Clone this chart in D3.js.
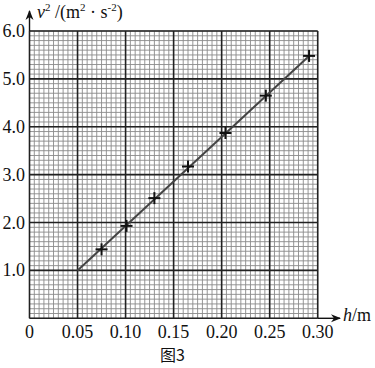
<!DOCTYPE html>
<html><head><meta charset="utf-8">
<script src="https://cdn.jsdelivr.net/npm/d3@7"></script>
<style>html,body{margin:0;padding:0;background:#fff;}svg{display:block;}</style>
</head><body>
<svg id="c" width="375" height="368"></svg>
<script>
const hValues = [0.075, 0.101, 0.130, 0.165, 0.204, 0.246, 0.291];
const v2Values = [1.44, 1.93, 2.51, 3.17, 3.87, 4.65, 5.48];
const fitH = [0.05, 0.291];
const fitV2 = [1.0, 5.48];
const xTicks = [0, 0.05, 0.10, 0.15, 0.20, 0.25, 0.30];
const xTickLabels = ["0", "0.05", "0.10", "0.15", "0.20", "0.25", "0.30"];
const yTicks = [1, 2, 3, 4, 5, 6];
const yTickLabels = ["1.0", "2.0", "3.0", "4.0", "5.0", "6.0"];

const svg = d3.select("#c");
const x = d3.scaleLinear().domain([0, 0.30]).range([29.5, 317.7]);
const y = d3.scaleLinear().domain([0, 6]).range([318.3, 31]);
const serif = "'Liberation Serif','Times New Roman',serif";

// minor grid
const minorX = d3.range(0, 61).map(i => i * 0.005);
const minorY = d3.range(0, 61).map(i => i * 0.1);
const g = svg.append("g");
g.selectAll(".mx").data(minorX).enter().append("line")
  .attr("x1", d => x(d)).attr("x2", d => x(d)).attr("y1", y(0)).attr("y2", y(6))
  .attr("stroke", "#8a8a8a").attr("stroke-width", 0.9);
g.selectAll(".my").data(minorY).enter().append("line")
  .attr("y1", d => y(d)).attr("y2", d => y(d)).attr("x1", x(0)).attr("x2", x(0.30))
  .attr("stroke", "#8a8a8a").attr("stroke-width", 0.9);
// major grid
g.selectAll(".Mx").data(xTicks).enter().append("line")
  .attr("x1", d => x(d)).attr("x2", d => x(d)).attr("y1", y(0)).attr("y2", y(6))
  .attr("stroke", "#222").attr("stroke-width", 1.6);
g.selectAll(".My").data([0].concat(yTicks)).enter().append("line")
  .attr("y1", d => y(d)).attr("y2", d => y(d)).attr("x1", x(0)).attr("x2", x(0.30))
  .attr("stroke", "#222").attr("stroke-width", 1.6);

// axes arrows
svg.append("defs").append("marker").attr("id", "arr")
  .attr("viewBox", "0 0 10 10").attr("refX", 9).attr("refY", 5)
  .attr("markerWidth", 10).attr("markerHeight", 10).attr("markerUnits", "userSpaceOnUse")
  .attr("orient", "auto")
  .append("path").attr("d", "M0,1 L10,5 L0,9 L3,5 Z").attr("fill", "#111");
svg.append("line").attr("x1", x(0)).attr("x2", x(0)).attr("y1", y(6)).attr("y2", 11)
  .attr("stroke", "#111").attr("stroke-width", 1.4).attr("marker-end", "url(#arr)");
svg.append("line").attr("x1", x(0.30)).attr("x2", 340).attr("y1", y(0)).attr("y2", y(0))
  .attr("stroke", "#111").attr("stroke-width", 1.4).attr("marker-end", "url(#arr)");

// fit line
svg.append("line")
  .attr("x1", x(fitH[0])).attr("y1", y(fitV2[0]))
  .attr("x2", x(fitH[1])).attr("y2", y(fitV2[1]))
  .attr("stroke", "#444").attr("stroke-width", 2);

// markers
const s = 6;
const pts = svg.selectAll(".pt").data(hValues.map((h, i) => [h, v2Values[i]])).enter().append("g");
pts.append("line").attr("x1", d => x(d[0]) - s).attr("x2", d => x(d[0]) + s)
  .attr("y1", d => y(d[1])).attr("y2", d => y(d[1])).attr("stroke", "#111").attr("stroke-width", 2);
pts.append("line").attr("x1", d => x(d[0])).attr("x2", d => x(d[0]))
  .attr("y1", d => y(d[1]) - s).attr("y2", d => y(d[1]) + s).attr("stroke", "#111").attr("stroke-width", 2);

// tick labels
svg.selectAll(".xl").data(xTicks).enter().append("text")
  .attr("x", d => x(d)).attr("y", 338).attr("text-anchor", "middle")
  .attr("font-family", serif).attr("font-size", 18).attr("fill", "#111")
  .text((d, i) => xTickLabels[i]);
svg.selectAll(".yl").data(yTicks).enter().append("text")
  .attr("x", 25).attr("y", d => y(d) + 6).attr("text-anchor", "end")
  .attr("font-family", serif).attr("font-size", 18).attr("fill", "#111")
  .text((d, i) => yTickLabels[i]);

// axis titles
const yt = svg.append("text").attr("x", 37).attr("y", 18)
  .attr("font-family", serif).attr("font-size", 18).attr("fill", "#111");
yt.append("tspan").attr("font-style", "italic").text("v");
yt.append("tspan").attr("font-size", 11).attr("dy", -7).text("2");
yt.append("tspan").attr("dy", 7).text(" /(m");
yt.append("tspan").attr("font-size", 11).attr("dy", -7).text("2");
yt.append("tspan").attr("dy", 7).text(" · s");
yt.append("tspan").attr("font-size", 11).attr("dy", -7).text("-2");
yt.append("tspan").attr("dy", 7).text(")");

const xt = svg.append("text").attr("x", 343).attr("y", 321)
  .attr("font-family", serif).attr("font-size", 18).attr("fill", "#111");
xt.append("tspan").attr("font-style", "italic").text("h");
xt.append("tspan").text("/m");

svg.append("text").attr("x", 160).attr("y", 361)
  .attr("font-family", "'Noto Sans CJK SC', serif").attr("font-size", 16).attr("fill", "#111")
  .text("图3");
</script>
</body></html>
